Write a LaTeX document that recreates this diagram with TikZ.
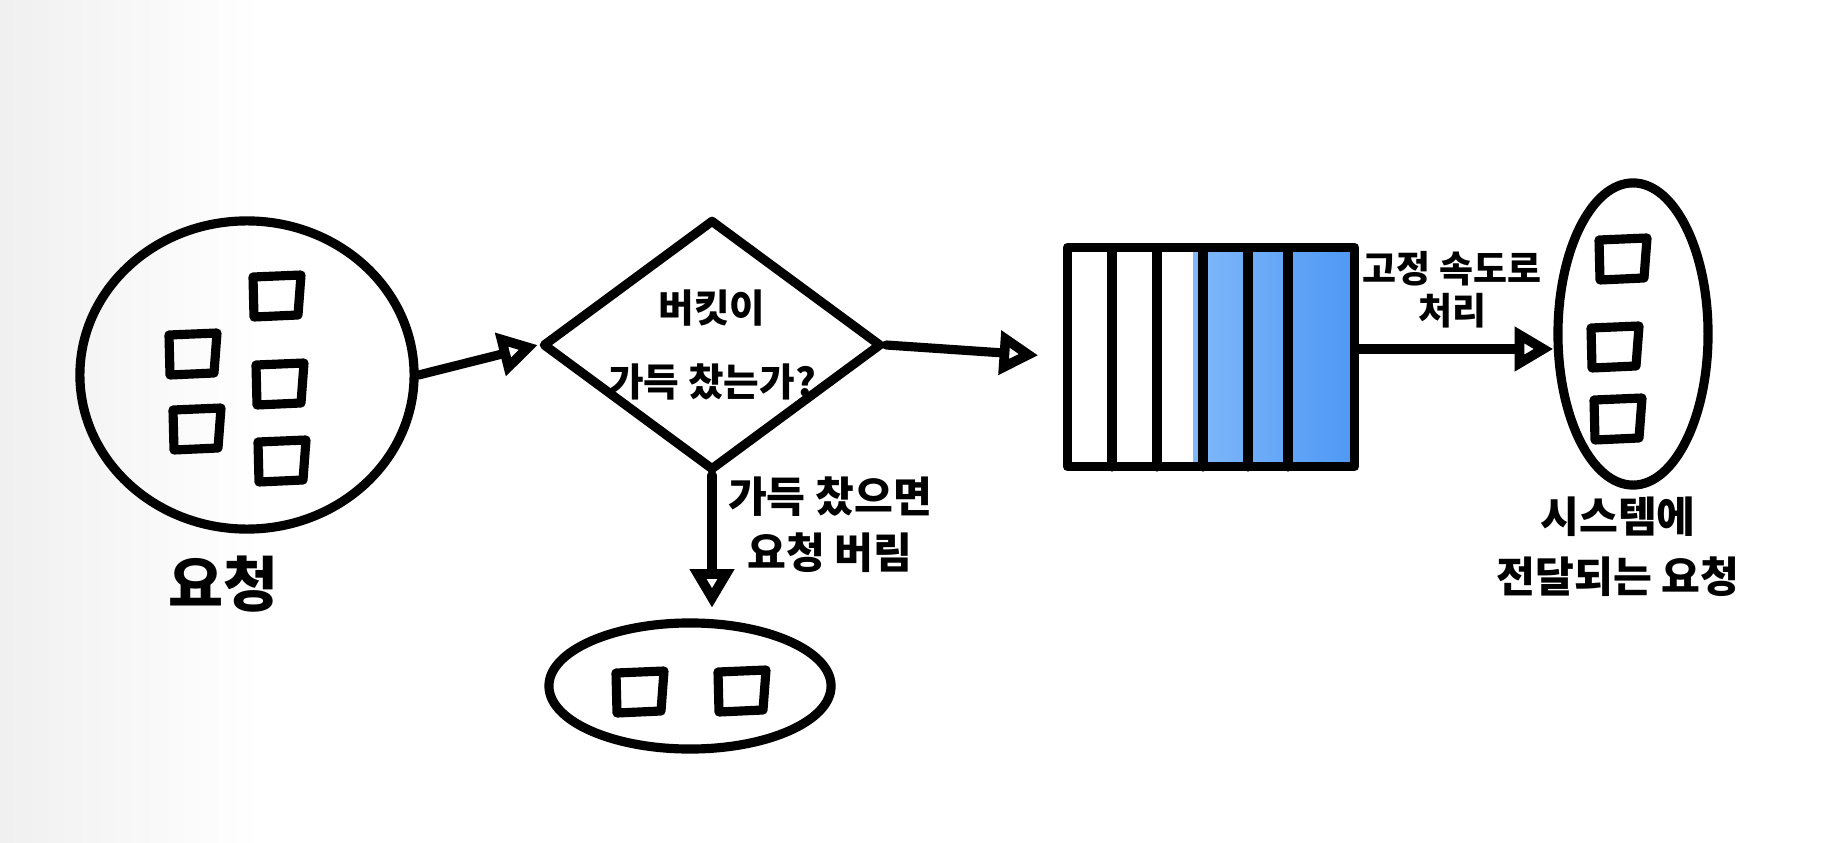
\documentclass[tikz,border=0pt]{standalone}
\usepackage{fontspec}
\usepackage{xcolor}
\usepackage{tikz}
\usetikzlibrary{shapes,shapes.geometric,arrows.meta}
\newfontfamily\kr{Noto Sans CJK KR}
\definecolor{fillblue}{RGB}{78,152,245}
\definecolor{fillbluelt}{RGB}{128,184,249}
\tikzstyle{every node}=[font=\kr\bfseries\fontsize{12}{16}\selectfont]
\tikzstyle{sketch}=[line width=2.6pt, line cap=round, line join=round]
\tikzstyle{flow}=[sketch, -{Triangle[open,length=11pt,width=12pt,line width=3pt]}]
\tikzstyle{blob}=[sketch, draw, ellipse, inner sep=0pt]
\newcommand{\req}[2]{
  \draw[sketch] (#1-24, #2-20) -- (#1+24, #2-22) -- (#1+21, #2+18) -- (#1-23, #2+20) -- cycle;
}

\begin{document}
\begin{tikzpicture}[x=0.01cm,y=-0.01cm]
  \useasboundingbox (0,0) rectangle (1843,843);
  \shade[left color=black!6, right color=white] (0,0) rectangle (260,843);

  % incoming requests
  \node[blob, minimum width=3.34cm, minimum height=3.08cm] (reqs) at (247,375) {};
  \node[font=\kr\bfseries\fontsize{17}{20}\selectfont] (reqlbl) at (223,584) {요청};
  \req{277}{297}
  \req{193}{355}
  \req{280}{385}
  \req{197}{430}
  \req{282}{462}

  % bucket full?
  \node[draw, sketch, diamond, aspect=1.35, minimum width=3.39cm, minimum height=2.51cm,
        inner sep=0pt] (bucket) at (712,345) {};
  \node[align=center, font=\kr\bfseries\fontsize{11}{21}\selectfont] (bucketlbl) at (712,345)
        {버킷이\\가득 찼는가?};

  % dropped
  \node[blob, minimum width=2.82cm, minimum height=1.26cm] (drop) at (690,686) {};
  \req{640}{693}
  \req{742}{692}
  \node[align=center] (droplbl) at (830,525) {가득 찼으면\\요청 버림};

  % queue
  \shade[left color=fillbluelt, right color=fillblue] (1193,251) rectangle (1353,464);
  \node[draw, sketch, rectangle, minimum width=2.87cm, minimum height=2.19cm] (queue) at (1211,357) {};
  \draw[sketch] (1112,248) -- (1112,467);
  \draw[sketch] (1157,248) -- (1157,467);
  \draw[sketch] (1203,248) -- (1203,467);
  \draw[sketch] (1248,248) -- (1248,467);
  \draw[sketch] (1288,248) -- (1288,467);
  \node[align=center, font=\kr\bfseries\fontsize{10.5}{12}\selectfont] (ratelbl) at (1452,290) {고정 속도로\\처리};

  % forwarded
  \node[blob, minimum width=1.5cm, minimum height=3.02cm] (served) at (1633,334) {};
  \req{1623}{260}
  \req{1615}{348}
  \req{1618}{420}
  \node[align=center, font=\kr\bfseries\fontsize{12}{17}\selectfont] (servedlbl) at (1618,547) {시스템에\\전달되는 요청};

  \draw[flow] (reqs.east) -- (bucket.west);
  \draw[flow, shorten >=7pt] (bucket.east) -- (queue.west);
  \draw[flow, shorten >=3pt] (bucket.south) -- (bucket.south |- drop.north);
  \draw[flow] ([yshift=0.08cm]queue.east) -- ([yshift=0.08cm]queue.east -| served.west);

\end{tikzpicture}
\end{document}
